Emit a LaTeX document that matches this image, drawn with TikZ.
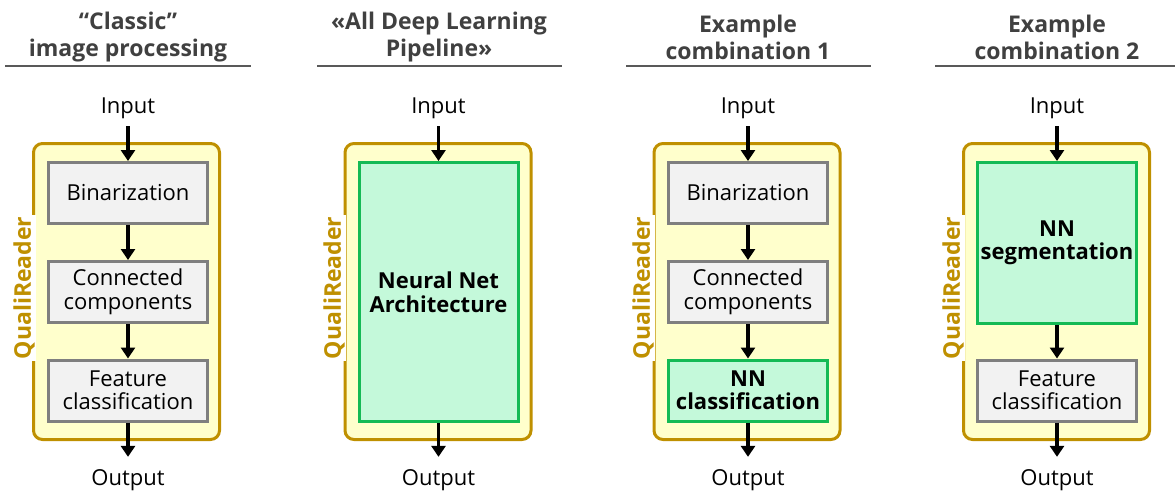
\documentclass[tikz,border=0pt]{standalone}
\usepackage{fontspec}
\setmainfont{Open Sans}
\usetikzlibrary{arrows.meta}
\definecolor{gold}{HTML}{BF9000}
\definecolor{lyellow}{HTML}{FFFFCC}
\definecolor{boxgray}{HTML}{F2F2F2}
\definecolor{boxedge}{HTML}{7F7F7F}
\definecolor{nngreen}{HTML}{C4F9DA}
\definecolor{nnedge}{HTML}{14BA55}
\definecolor{headtxt}{HTML}{404040}
\definecolor{headline}{HTML}{595959}
\tikzset{
  head/.style={font=\fontsize{23}{27}\selectfont\bfseries, text=headtxt, align=center, inner sep=0pt},
  hline/.style={draw=headline, line width=1.5pt},
  io/.style={font=\fontsize{22}{24}\selectfont, inner sep=0pt, anchor=base},
  frame/.style={draw=gold, fill=lyellow, line width=3pt, rounded corners=9pt, minimum width=186pt, minimum height=296pt, inner sep=0pt},
  graybox/.style={draw=boxedge, fill=boxgray, line width=3pt, minimum width=159pt, minimum height=61pt, inner sep=0pt, align=center, font=\fontsize{22}{23.5}\selectfont},
  nnbox/.style={draw=nnedge, fill=nngreen, line width=3pt, minimum width=159pt, inner sep=0pt, align=center, font=\fontsize{22}{23.5}\selectfont\bfseries},
  qr/.style={rotate=90, fill=white, text=gold, font=\fontsize{23}{24}\selectfont\bfseries, inner xsep=2pt, inner ysep=1pt},
  arr/.style={line width=3.4pt, -{Triangle[length=11pt,width=14pt]}}
}
\begin{document}
\begin{tikzpicture}[x=1pt,y=-1pt]
\useasboundingbox (0,0) rectangle (1175,495);
% ---------- column 1 ----------
\node[head] (h1) at (128,37) {“Classic”\\image processing};
\draw[hline] (5,66) -- (251,66);
\node[io] (in1) at (128,113) {Input};
\node[frame] (f1) at (126.5,291.5) {};
\node[qr] (q1) at (24,288) {QualiReader};
\node[graybox] (b1a) at (128,193) {Binarization};
\node[graybox] (b1b) at (128,292) {Connected\\components};
\node[graybox] (b1c) at (128,390.5) {Feature\\classification};
\node[io] (out1) at (128,485) {Output};
\draw[arr] ([yshift=-8pt]in1.south) -- (b1a.north);
\draw[arr] (b1a.south) -- (b1b.north);
\draw[arr] (b1b.south) -- (b1c.north);
\draw[arr] (b1c.south) -- ([yshift=12pt]out1.north);
% ---------- column 2 ----------
\node[head] (h2) at (439,37) {«All Deep Learning\\Pipeline»};
\draw[hline] (317,66) -- (562,66);
\node[io] (in2) at (438.5,113) {Input};
\node[frame] (f2) at (438,291.5) {};
\node[qr] (q2) at (334,288) {QualiReader};
\node[nnbox, minimum height=259pt] (g2) at (438.5,292) {Neural Net\\Architecture};
\node[io] (out2) at (438.5,485) {Output};
\draw[arr] ([yshift=-8pt]in2.south) -- (g2.north);
\draw[arr] (g2.south) -- ([yshift=12pt]out2.north);
% ---------- column 3 ----------
\node[head] (h3) at (748,37) {Example\\combination 1};
\draw[hline] (626,66) -- (871,66);
\node[io] (in3) at (748,113) {Input};
\node[frame] (f3) at (747,291.5) {};
\node[qr] (q3) at (643,288) {QualiReader};
\node[graybox] (b3a) at (748,193) {Binarization};
\node[graybox] (b3b) at (748,292) {Connected\\components};
\node[nnbox, minimum height=61pt] (g3c) at (748,390.5) {NN\\classification};
\node[io] (out3) at (748,485) {Output};
\draw[arr] ([yshift=-8pt]in3.south) -- (b3a.north);
\draw[arr] (b3a.south) -- (b3b.north);
\draw[arr] (b3b.south) -- (g3c.north);
\draw[arr] (g3c.south) -- ([yshift=12pt]out3.north);
% ---------- column 4 ----------
\node[head] (h4) at (1057,37) {Example\\combination 2};
\draw[hline] (935,66) -- (1180,66);
\node[io] (in4) at (1057,113) {Input};
\node[frame] (f4) at (1056.5,291.5) {};
\node[qr] (q4) at (953,288) {QualiReader};
\node[nnbox, minimum height=161pt] (g4a) at (1057,243) {NN\\segmentation};
\node[graybox] (b4b) at (1057,390.5) {Feature\\classification};
\node[io] (out4) at (1057,485) {Output};
\draw[arr] ([yshift=-8pt]in4.south) -- (g4a.north);
\draw[arr] (g4a.south) -- (b4b.north);
\draw[arr] (b4b.south) -- ([yshift=12pt]out4.north);
\end{tikzpicture}
\end{document}
